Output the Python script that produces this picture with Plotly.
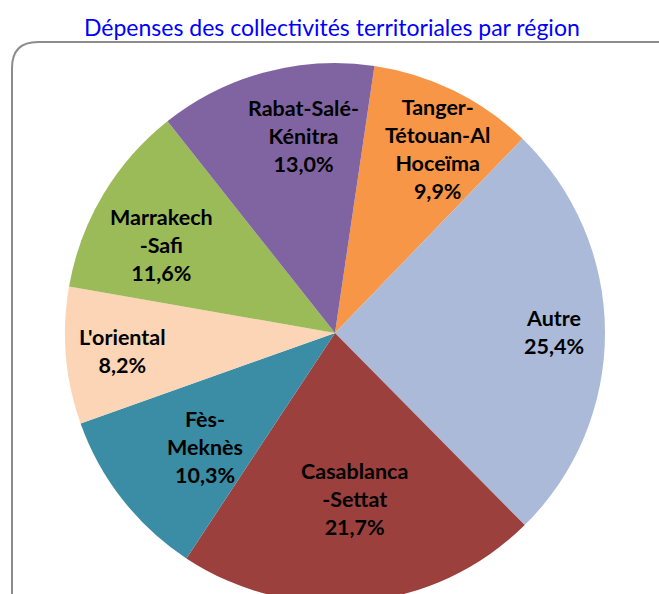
import math
import plotly.graph_objects as go

# ---- data ----
regions = ["Tanger-Tétouan-Al Hoceïma", "Autre", "Casablanca-Settat", "Fès-Meknès",
           "L'oriental", "Marrakech-Safi", "Rabat-Salé-Kénitra"]
label_lines = [["Tanger-", "Tétouan-Al", "Hoceïma"], ["Autre"], ["Casablanca", "-Settat"],
               ["Fès-", "Meknès"], ["L'oriental"], ["Marrakech", "-Safi"], ["Rabat-Salé-", "Kénitra"]]
shares = [9.9, 25.4, 21.7, 10.3, 8.2, 11.6, 13.0]
colors = ["#F79646", "#AABAD8", "#9C403E", "#3A8DA5", "#FBD5B5", "#9BBB59", "#8064A2"]
title_text = "Dépenses des collectivités territoriales par région"

# ---- layout geometry (pixels) ----
W, H = 659, 604
cx, cy, R = 335, 333, 270
ml, mr, mt = cx - R, W - (cx + R), cy - R
mb = H - (cy + R)
pw, ph = W - ml - mr, H - mt - mb
rotation = 8.4
label_radius = [0.78, 0.81, 0.62, 0.64, 0.79, 0.72, 0.74]
label_angle_shift = [3, 0, -1, -3, 0, -4, 6]


def px2paper(x, y):
    return (x - ml) / pw, (H - mb - y) / ph


fig = go.Figure(go.Pie(
    labels=regions, values=shares, sort=False, direction="clockwise",
    rotation=rotation, marker=dict(colors=colors, line=dict(width=0)),
    textinfo="none", hoverinfo="label+percent", showlegend=False,
))

total = sum(shares)
annotations = []
cum = 0.0
for i, v in enumerate(shares):
    mid = rotation + (cum + v / 2) / total * 360 + label_angle_shift[i]
    cum += v
    r = label_radius[i] * R
    x = cx + r * math.sin(math.radians(mid))
    y = cy - r * math.cos(math.radians(mid))
    xp, yp = px2paper(x, y)
    txt = "<br>".join(label_lines[i] + [f"{v:.1f}%".replace(".", ",")])
    annotations.append(dict(x=xp, y=yp, xref="paper", yref="paper", text=txt,
                            xanchor="center", yanchor="middle",
                            showarrow=False, align="center",
                            font=dict(family="Lato", size=21.5, color="#000000", weight="bold")))

tx, ty = px2paper(332, 27)
annotations.append(dict(x=tx, y=ty, xref="paper", yref="paper", text=title_text,
                        xanchor="center", yanchor="middle",
                        showarrow=False, font=dict(family="Lato", size=23, color="#0000FF")))

# rounded border (extends past figure edges)
bx0, by0, bx1, by1, rr = 12, 42, 700, 650, 26
def P(x, y):
    a, b = px2paper(x, y)
    return f"{a:.5f},{b:.5f}"
path = (f"M {P(bx0, by1)} L {P(bx0, by0 + rr)} Q {P(bx0, by0)} {P(bx0 + rr, by0)} "
        f"L {P(bx1, by0)}")
fig.update_layout(
    width=W, height=H, margin=dict(l=ml, r=mr, t=mt, b=mb),
    paper_bgcolor="white", plot_bgcolor="white",
    annotations=annotations,
    shapes=[dict(type="path", xref="paper", yref="paper", path=path,
                 line=dict(color="#8C8C8C", width=2), layer="below")],
)

fig.write_html("out.html", config={"displayModeBar": False},
               post_script="document.body.style.margin='0';document.body.style.overflow='hidden';")
